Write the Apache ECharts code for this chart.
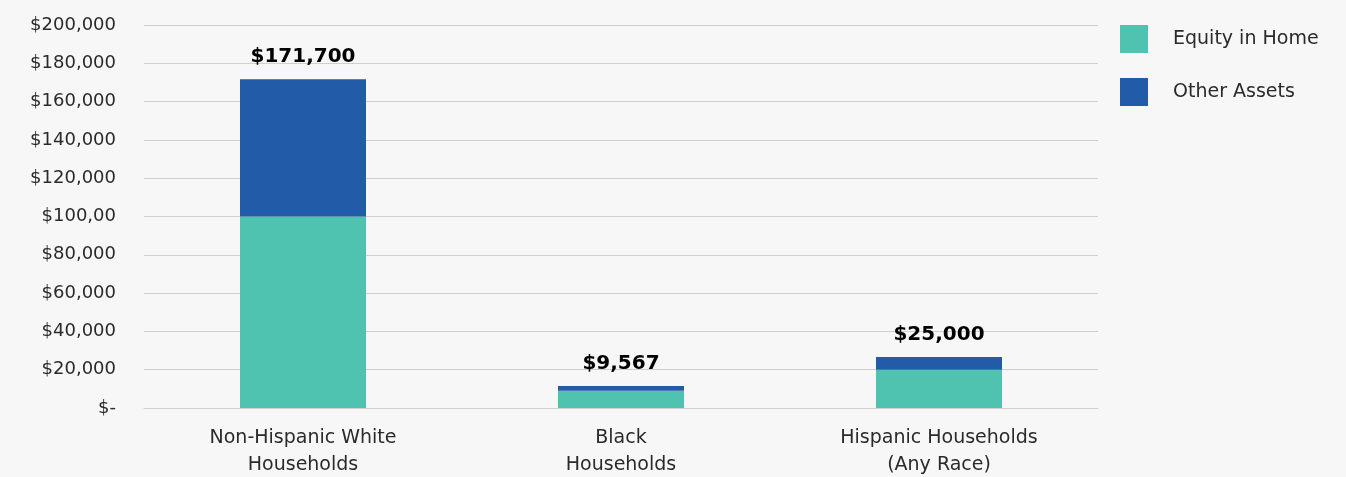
<!DOCTYPE html>
<html>
<head>
<meta charset="utf-8">
<script src="https://cdn.jsdelivr.net/npm/echarts@6/dist/echarts.min.js"></script>
<style>
html,body{margin:0;padding:0;background:#f7f7f7;}
#c{width:1346px;height:477px;}
</style>
</head>
<body>
<div id="c"></div>
<script>
const categories = ['Non-Hispanic White\nHouseholds', 'Black\nHouseholds', 'Hispanic Households\n(Any Race)'];
const equityInHome = [100000, 9000, 20000];
const otherAssets = [71700, 2500, 6600];
const totalLabels = ['$171,700', '$9,567', '$25,000'];
const yTickLabels = ['$-', '$20,000', '$40,000', '$60,000', '$80,000', '$100,00', '$120,000', '$140,000', '$160,000', '$180,000', '$200,000'];

const chart = echarts.init(document.getElementById('c'));
const FONT = "'DejaVu Sans ExtraLight', 'DejaVu Sans'";
chart.setOption({
  backgroundColor: '#f7f7f7',
  animation: false,
  textStyle: { fontFamily: FONT },
  grid: { left: 144, right: 248, top: 25, bottom: 69, containLabel: false, outerBoundsMode: 'none' },
  legend: {
    orient: 'vertical',
    left: 1120,
    top: 25,
    padding: 0,
    icon: 'rect',
    itemWidth: 28,
    itemHeight: 28,
    itemGap: 25,
    textStyle: { fontFamily: FONT, fontSize: 19, color: '#2a2a2a', padding: [0, 0, 0, 20] },
    data: ['Equity in Home', 'Other Assets']
  },
  xAxis: {
    type: 'category',
    data: categories,
    axisLine: { show: true, lineStyle: { color: '#cfcfcf', width: 1 } },
    axisTick: { show: false },
    axisLabel: { fontFamily: FONT, fontSize: 19, color: '#2a2a2a', lineHeight: 27, margin: 17 }
  },
  yAxis: {
    type: 'value',
    min: 0,
    max: 200000,
    interval: 20000,
    axisLine: { show: false },
    axisTick: { show: false },
    splitLine: { lineStyle: { color: '#cfcfcf', width: 1 } },
    axisLabel: {
      fontFamily: FONT, fontSize: 18, color: '#2a2a2a', margin: 28,
      formatter: function (v, i) { return yTickLabels[Math.round(v / 20000)]; }
    }
  },
  series: [
    {
      name: 'Equity in Home',
      type: 'bar',
      stack: 'total',
      barWidth: 126,
      itemStyle: { color: '#50c3b0' },
      data: equityInHome
    },
    {
      name: 'Other Assets',
      type: 'bar',
      stack: 'total',
      barWidth: 126,
      itemStyle: { color: '#225ba8' },
      label: {
        show: true,
        position: 'top',
        distance: 12,
        fontFamily: 'DejaVu Sans',
        fontWeight: 'bold',
        fontSize: 20,
        color: '#000',
        formatter: function (p) { return totalLabels[p.dataIndex]; }
      },
      data: otherAssets
    }
  ]
});
</script>
</body>
</html>
